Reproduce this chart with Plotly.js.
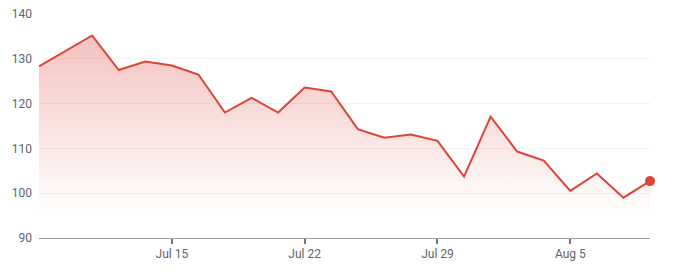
<!DOCTYPE html>
<html>
<head>
<meta charset="utf-8">
<script src="https://cdn.plot.ly/plotly-3.0.1.min.js"></script>
<style>html,body{margin:0;padding:0;background:#fff;}#chart{width:680px;height:276px;}</style>
</head>
<body>
<div id="chart"></div>
<script>
const dates = ["2024-07-08","2024-07-09","2024-07-10","2024-07-11","2024-07-12",
  "2024-07-15","2024-07-16","2024-07-17","2024-07-18","2024-07-19",
  "2024-07-22","2024-07-23","2024-07-24","2024-07-25","2024-07-26",
  "2024-07-29","2024-07-30","2024-07-31","2024-08-01","2024-08-02",
  "2024-08-05","2024-08-06","2024-08-07","2024-08-08"];
const values = [128.3,131.7,135.2,127.5,129.4,
  128.5,126.5,118.0,121.3,118.0,
  123.6,122.7,114.3,112.4,113.1,
  111.7,103.7,117.1,109.3,107.3,
  100.5,104.4,99.0,102.7];
const tickDates = ["2024-07-15","2024-07-22","2024-07-29","2024-08-05"];
const tickLabels = ["Jul 15","Jul 22","Jul 29","Aug 5"];
const yTicks = [90,100,110,120,130,140];

const red = '#db4437';
const last = dates.length - 1;

const traces = [
  {
    x: dates, y: values, type: 'scatter', mode: 'lines',
    line: {color: red, width: 2},
    fill: 'tozeroy',
    fillgradient: {type: 'vertical', start: 95, stop: 136,
      colorscale: [[0, 'rgba(219,68,55,0)'], [1, 'rgba(219,68,55,0.33)']]},
    hoverinfo: 'skip'
  },
  {
    x: [dates[last]], y: [values[last]], type: 'scatter', mode: 'markers',
    marker: {color: red, size: 10}, cliponaxis: false, hoverinfo: 'skip'
  }
];

const layout = {
  width: 680, height: 276,
  margin: {l: 39, r: 30, t: 14, b: 38},
  paper_bgcolor: '#fff', plot_bgcolor: '#fff',
  showlegend: false,
  font: {family: 'Roboto, Arial, sans-serif', size: 12, color: '#5f6368'},
  xaxis: {
    type: 'date',
    range: [dates[0], dates[last]],
    rangebreaks: [{bounds: ['sat', 'mon']}],
    tickvals: tickDates, ticktext: tickLabels,
    showgrid: false, zeroline: false,
    showline: true, linecolor: '#9e9e9e', linewidth: 1,
    ticks: 'outside', ticklen: 5, tickwidth: 2, tickcolor: '#757575',
    tickfont: {size: 12, color: '#5f6368'},
    fixedrange: true
  },
  yaxis: {
    range: [90, 140],
    tickvals: yTicks,
    showgrid: true, gridcolor: '#f1f1f1', gridwidth: 1,
    zeroline: false, showline: false, ticks: '',
    ticklabelstandoff: 6,
    tickfont: {size: 12, color: '#5f6368'},
    fixedrange: true
  }
};

Plotly.newPlot('chart', traces, layout, {displayModeBar: false, staticPlot: true});
</script>
</body>
</html>
